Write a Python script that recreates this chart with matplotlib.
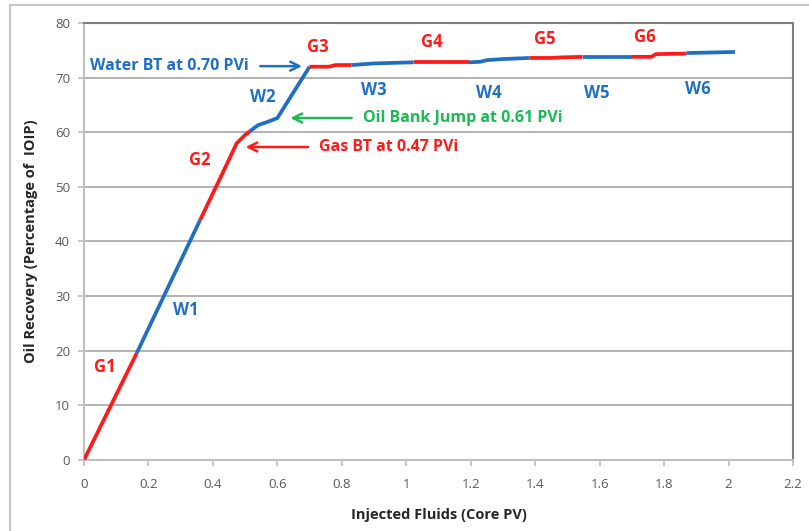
import numpy as np
import matplotlib.pyplot as plt
from matplotlib.lines import Line2D

plt.rcParams['font.family'] = ['Open Sans', 'DejaVu Sans']

RED = '#ff1a1a'
BLUE = '#1f6fc4'
GREEN = '#1db954'

# alternating gas / water slug injection segments
seg_names = ['G1', 'W1', 'G2', 'W2', 'G3', 'W3', 'G4', 'W4', 'G5', 'W5', 'G6', 'W6']
seg_x = [
    [0, 0.164],
    [0.164, 0.36],
    [0.36, 0.43, 0.474, 0.50, 0.515],
    [0.515, 0.54, 0.57, 0.60, 0.70],
    [0.70, 0.76, 0.78, 0.83],
    [0.83, 0.90, 0.96, 1.023],
    [1.023, 1.10, 1.194],
    [1.194, 1.23, 1.25, 1.30, 1.383],
    [1.383, 1.45, 1.48, 1.547],
    [1.547, 1.62, 1.70],
    [1.70, 1.76, 1.775, 1.87],
    [1.87, 1.95, 2.02],
]
seg_y = [
    [0, 19.6],
    [19.6, 43.9],
    [43.9, 52.5, 58.0, 59.5, 60.2],
    [60.2, 61.3, 61.9, 62.6, 72.0],
    [72.0, 72.0, 72.3, 72.3],
    [72.3, 72.6, 72.7, 72.8],
    [72.8, 72.8, 72.8],
    [72.8, 72.9, 73.2, 73.4, 73.6],
    [73.6, 73.6, 73.7, 73.8],
    [73.8, 73.8, 73.8],
    [73.8, 73.8, 74.3, 74.4],
    [74.5, 74.6, 74.7],
]
label_x = [0.065, 0.316, 0.36, 0.555, 0.726, 0.90, 1.08, 1.256, 1.43, 1.59, 1.74, 1.904]
label_y = [17.0, 27.5, 55.0, 66.5, 75.6, 67.7, 76.5, 67.2, 77.1, 67.2, 77.4, 67.9]

x_ticks = [0, 0.2, 0.4, 0.6, 0.8, 1, 1.2, 1.4, 1.6, 1.8, 2, 2.2]
x_ticklabels = ['0', '0.2', '0.4', '0.6', '0.8', '1', '1.2', '1.4', '1.6', '1.8', '2', '2.2']
y_ticks = [0, 10, 20, 30, 40, 50, 60, 70, 80]

fig = plt.figure(figsize=(8.09, 5.31), dpi=100)
ax = fig.add_axes([0.1038, 0.1337, 0.8764, 0.823])

# outer chart frame
fig.add_artist(Line2D([0.0124, 0.0124], [0, 0.9906], color='#c8c8c8', lw=1.5))
fig.add_artist(Line2D([0.0124, 1.0], [0.9906, 0.9906], color='#c8c8c8', lw=1.5))

for name, xs, ys in zip(seg_names, seg_x, seg_y):
    c = RED if name.startswith('G') else BLUE
    ax.plot(xs, ys, color=c, lw=2.7, solid_capstyle='butt', zorder=3)

for name, lx, ly in zip(seg_names, label_x, label_y):
    c = RED if name.startswith('G') else BLUE
    ax.text(lx, ly, name, color=c, fontsize=12, fontweight='bold', ha='center', va='center')

arrow = dict(arrowstyle='->', lw=1.8, mutation_scale=16)
ax.annotate('Water BT at 0.70 PVi', xy=(0.685, 72.1), xytext=(0.02, 72.1),
            color=BLUE, fontsize=11.5, fontweight='bold', va='center', ha='left',
            arrowprops=dict(arrow, color=BLUE, shrinkA=6))
ax.annotate('Oil Bank Jump at 0.61 PVi', xy=(0.632, 62.6), xytext=(0.865, 62.6),
            color=GREEN, fontsize=11.5, fontweight='bold', va='center', ha='left',
            arrowprops=dict(arrow, color=GREEN, shrinkA=6))
ax.annotate('Gas BT at 0.47 PVi', xy=(0.493, 57.3), xytext=(0.73, 57.3),
            color=RED, fontsize=11.5, fontweight='bold', va='center', ha='left',
            arrowprops=dict(arrow, color=RED, shrinkA=6))

ax.set_xlim(0, 2.2)
ax.set_ylim(0, 80)
ax.set_xticks(x_ticks)
ax.set_xticklabels(x_ticklabels)
ax.set_yticks(y_ticks)
ax.yaxis.grid(True, color='#a6a6a6', lw=1.2)
ax.set_axisbelow(True)

for s in ['left', 'bottom']:
    ax.spines[s].set_color('#bfbfbf')
    ax.spines[s].set_linewidth(1.5)
for s in ['top', 'right']:
    ax.spines[s].set_color('#7f7f7f')
    ax.spines[s].set_linewidth(1.5)

ax.tick_params(axis='both', colors='#bfbfbf', labelcolor='#595959', labelsize=9.5,
               length=4, width=1.2, direction='out')
ax.tick_params(axis='x', pad=9)
ax.tick_params(axis='y', pad=6)

ax.set_xlabel('Injected Fluids (Core PV)', fontsize=10.5, fontweight='bold', color='#262626', labelpad=12)
ax.set_ylabel('Oil Recovery (Percentage of  IOIP)', fontsize=10.5, fontweight='bold', color='#262626', labelpad=12)

fig.savefig('out.png', dpi=100)
